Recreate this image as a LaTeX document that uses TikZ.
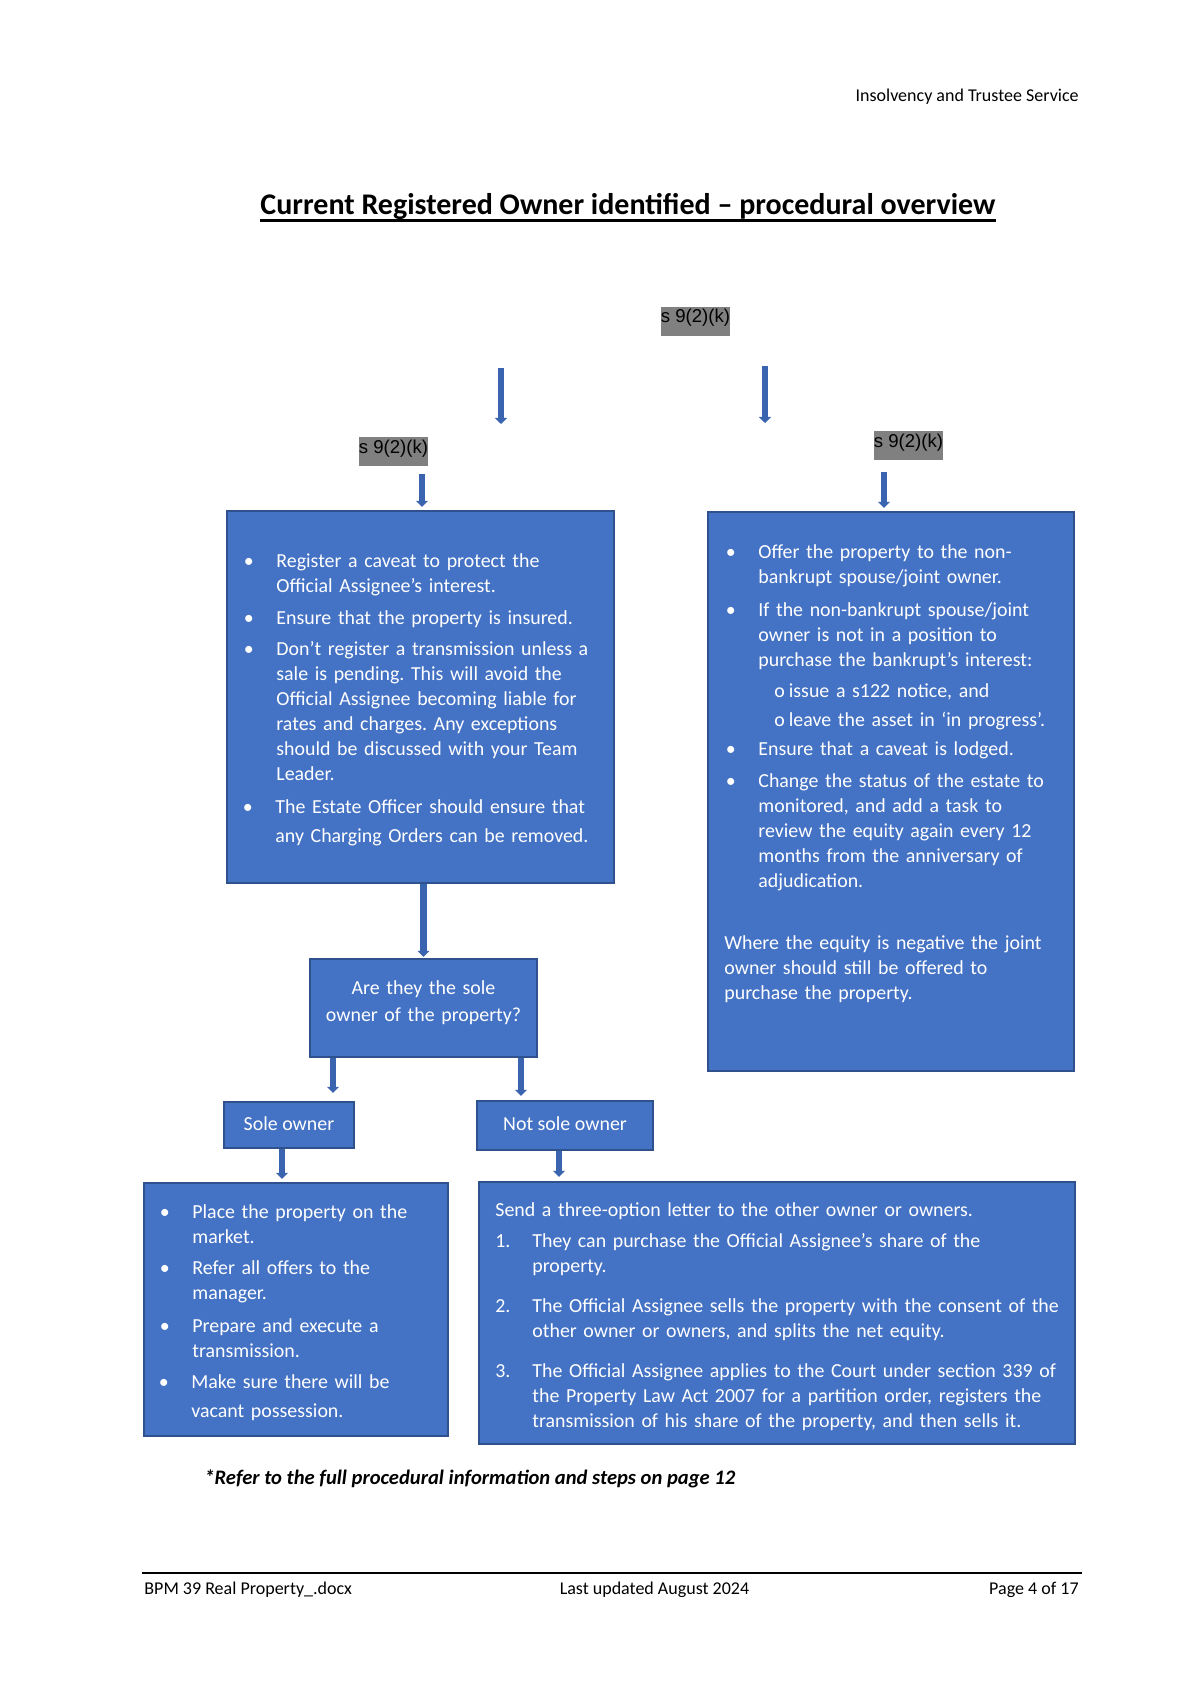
\documentclass[tikz,border=0pt]{standalone}
\usepackage{fontspec}
\setmainfont{Carlito}
\newfontfamily\arialfont{Liberation Sans}
\usetikzlibrary{arrows.meta}
\definecolor{boxblue}{HTML}{4472C4}
\definecolor{boxedge}{HTML}{2F528F}
\definecolor{lblgray}{HTML}{808080}
\definecolor{arrowblue}{HTML}{3A63B0}
\newcommand\bxfont{\fontsize{9.95}{12.5}\selectfont}
\newcommand\bxfontwide{\fontsize{9.95}{14.5}\selectfont}
\newcommand\bul{\llap{\makebox[16.3pt][l]{\textbullet}}}
\newcommand\numb[1]{\llap{\makebox[18.5pt][l]{#1}}}
\frenchspacing
\begin{document}
\begin{tikzpicture}[x=0.5pt,y=-0.5pt,
  box/.style={draw=boxedge, fill=boxblue, line width=1.2pt, inner sep=0pt},
  itm/.style={anchor=base west, inner sep=0pt, text width=310pt, align=left, text=white, font=\bxfont},
  itmw/.style={itm, font=\bxfontwide},
  lbl/.style={fill=lblgray, inner xsep=0pt, inner ysep=0pt, text height=8pt, text depth=6.5pt, minimum width=34.5pt, font=\arialfont\fontsize{9.3}{11}\selectfont},
  arr/.style={draw=arrowblue, line width=3.2pt, -{Triangle[width=6pt,length=3pt]}},
  pagetxt/.style={inner sep=0pt, font=\fontsize{9}{11}\selectfont},
]
\useasboundingbox (0,0) rectangle (1190,1684);
\fill[white] (0,0) rectangle (1190,1684);

% header and title
\node[pagetxt, anchor=base east] (hdr) at (1079,102) {Insolvency and Trustee Service};
\node[anchor=base, inner sep=0pt, font=\bfseries\fontsize{15}{18}\selectfont] (T) at (628,215) {Current Registered Owner identified – procedural overview};
\draw[line width=1.5pt] ([yshift=-2.8pt]T.base west) -- ([yshift=-2.8pt]T.base east);

% labels
\node[lbl] (s0) at (695.5,321.5) {s 9(2)(k)};
\node[lbl] (s1) at (393.5,451.5) {s 9(2)(k)};
\node[lbl] (s2) at (908.5,445.5) {s 9(2)(k)};

% boxes
\node[box, minimum width=193.5pt, minimum height=186pt] (L) at (420.5,697) {};
\node[box, minimum width=183pt, minimum height=279.5pt] (R) at (891,791.5) {};
\node[box, minimum width=113.5pt, minimum height=49pt] (Q) at (423.5,1008) {};
\node[box, minimum width=65pt, minimum height=23pt, text=white, font=\bxfont, text height=7pt, text depth=2pt] (S) at (289,1125) {Sole owner};
\node[box, minimum width=88pt, minimum height=24.5pt, text=white, font=\bxfont, text height=7pt, text depth=2pt] (N) at (565,1125.5) {Not sole owner};
\node[box, minimum width=152pt, minimum height=126.5pt] (BL) at (296,1309.5) {};
\node[box, minimum width=298pt, minimum height=131pt] (BR) at (777,1313) {};

% question text
\node[anchor=base, inner sep=0pt, text width=113.5pt, align=center, text=white, font=\fontsize{9.95}{13.5}\selectfont] (Qt) at (423.5,994.5) {Are they the sole\\owner of the property?};

% left box text
\node[itm] (L1) at (276,567) {\bul Register a caveat to protect the\\Official Assignee’s interest.};
\node[itm] (L2) at (276,624) {\bul Ensure that the property is insured.};
\node[itm] (L3) at (276,655) {\bul Don’t register a transmission unless a\\sale is pending. This will avoid the\\Official Assignee becoming liable for\\rates and charges. Any exceptions\\should be discussed with your Team\\Leader.};
\node[itmw] (L4) at (275,813) {\bul The Estate Officer should ensure that\\any Charging Orders can be removed.};

% right box text
\node[itm] (R1) at (758,558) {\bul Offer the property to the non-\\bankrupt spouse/joint owner.};
\node[itm] (R2) at (758,616) {\bul If the non-bankrupt spouse/joint\\owner is not in a position to\\purchase the bankrupt's interest:};
\node[itm] (R2a) at (774,697) {o\hspace{2pt}issue a s122 notice, and};
\node[itm] (R2b) at (774,726) {o\hspace{2pt}leave the asset in ‘in progress’.};
\node[itm] (R3) at (758,755) {\bul Ensure that a caveat is lodged.};
\node[itm] (R4) at (758,787) {\bul Change the status of the estate to\\monitored, and add a task to\\review the equity again every 12\\months from the anniversary of\\adjudication.};
\node[itm] (R5) at (724,949) {Where the equity is negative the joint\\owner should still be offered to\\purchase the property.};

% bottom left text
\node[itm] (B1) at (192,1218) {\bul Place the property on the\\market.};
\node[itm] (B2) at (192,1274) {\bul Refer all offers to the\\manager.};
\node[itm] (B3) at (192,1332) {\bul Prepare and execute a\\transmission.};
\node[itmw] (B4) at (191,1388) {\bul Make sure there will be\\vacant possession.};

% bottom right text
\node[itm] (C0) at (495,1216) {Send a three-option letter to the other owner or owners.};
\node[itm] (C1) at (532,1247) {\numb{1.}They can purchase the Official Assignee’s share of the\\property.};
\node[itm] (C2) at (532,1312) {\numb{2.}The Official Assignee sells the property with the consent of the\\other owner or owners, and splits the net equity.};
\node[itm] (C3) at (532,1377) {\numb{3.}The Official Assignee applies to the Court under section 339 of\\the Property Law Act 2007 for a partition order, registers the\\transmission of his share of the property, and then sells it.};

% arrows
\coordinate (t1a) at (501,368); \coordinate (t1b) at (501,424);
\coordinate (t2a) at (765,366); \coordinate (t2b) at (765,423);
\draw[arr] (t1a) -- (t1b);
\draw[arr] (t2a) -- (t2b);
\coordinate (la) at (422,474);
\coordinate (ra) at (884,472);
\draw[arr, shorten >=1.5pt] (la) -- (la |- L.north);
\draw[arr, shorten >=1.5pt] (ra) -- (ra |- R.north);
\draw[arr, shorten >=0.5pt] (Q.north |- L.south) -- (Q.north);
\coordinate (qs) at (333,0);
\coordinate (qn) at (521,0);
\coordinate (sb) at (282,0);
\coordinate (nb) at (559,0);
\draw[arr, shorten >=4pt] (Q.south -| qs) -- (S.north -| qs);
\draw[arr, shorten >=2pt] (Q.south -| qn) -- (N.north -| qn);
\draw[arr, shorten >=1.5pt] (S.south -| sb) -- (BL.north -| sb);
\draw[arr, shorten >=2pt] (N.south -| nb) -- (BR.north -| nb);

% footnote
\node[anchor=base west, inner sep=0pt, font=\bfseries\itshape\fontsize{10.3}{12}\selectfont] (fn) at (204,1484) {*Refer to the full procedural information and steps on page 12};

% footer
\coordinate (fl) at (142,1573);
\coordinate (fr) at (1082,1573);
\draw[line width=1.1pt] (fl) -- (fr);
\node[pagetxt, anchor=base west] (f1) at (144,1594) {BPM 39 Real Property\_.docx};
\node[pagetxt, anchor=base] (f2) at (654.5,1594) {Last updated August 2024};
\node[pagetxt, anchor=base east] (f3) at (1079,1594) {Page 4 of 17};
\end{tikzpicture}
\end{document}
